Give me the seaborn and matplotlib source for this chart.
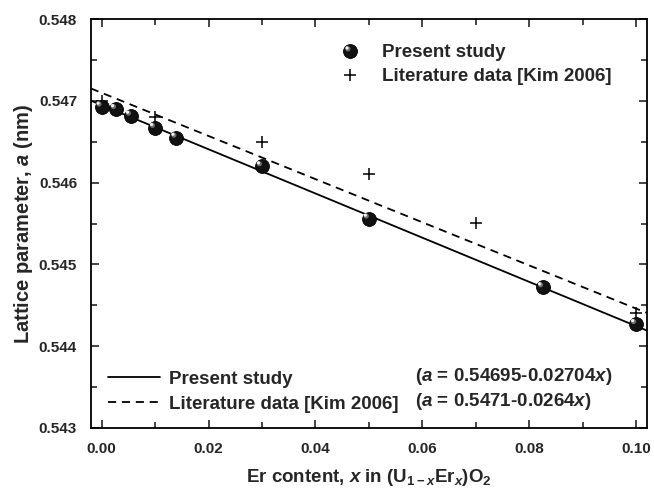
import numpy as np
import matplotlib
matplotlib.use("Agg")
import matplotlib.pyplot as plt
import seaborn as sns
from matplotlib.path import Path
from matplotlib.markers import MarkerStyle
from matplotlib.lines import Line2D
from matplotlib.legend_handler import HandlerTuple
from matplotlib.ticker import MultipleLocator, FormatStrFormatter

# ---------------------
# Data
# ---------------------
present_x = [0.0, 0.0027, 0.0055, 0.01, 0.014, 0.03, 0.05, 0.0826, 0.10]
present_a = [0.54693, 0.54690, 0.54682, 0.54667, 0.54655, 0.54620, 0.54556, 0.54472, 0.54427]

kim_x = [0.0, 0.01, 0.03, 0.05, 0.07, 0.10]
kim_a = [0.54700, 0.54680, 0.54650, 0.54611, 0.54551, 0.54441]

# linear fits given in the figure: a = a0 + slope * x
present_fit = (0.54695, -0.02704)
kim_fit = (0.5471, -0.0264)

x_lim = (-0.002, 0.102)
y_lim = (0.543, 0.548)

# ---------------------
# Style
# ---------------------
sns.set_theme(style="ticks")
plt.rcParams['font.family'] = ['Liberation Sans', 'DejaVu Sans']
plt.rcParams['font.weight'] = 'bold'
plt.rcParams['mathtext.fontset'] = 'custom'
plt.rcParams['mathtext.rm'] = 'Liberation Sans:bold'
plt.rcParams['mathtext.it'] = 'Liberation Sans:bold:italic'
plt.rcParams['mathtext.bf'] = 'Liberation Sans:bold'

DASH = (0, (4.5, 3.2))
BALL_S = 100
BALL_MS = np.sqrt(BALL_S)

# highlight markers: light spots sitting up-left inside the ball
hl_marker = MarkerStyle(Path.circle(center=(-0.3, 0.3), radius=0.3))
hl_marker2 = MarkerStyle(Path.circle(center=(-0.3, 0.3), radius=0.14))

fig = plt.figure(figsize=(6.54, 4.93), dpi=100)
ax = fig.add_axes([0.139, 0.132, 0.850, 0.829])

# fit lines
fx = np.array(x_lim)
sns.lineplot(x=fx, y=present_fit[0] + present_fit[1] * fx, ax=ax, color='black', lw=1.3)
sns.lineplot(x=fx, y=kim_fit[0] + kim_fit[1] * fx, ax=ax, color='black', lw=1.3,
             linestyle=DASH)

# literature points
sns.scatterplot(x=kim_x, y=kim_a, ax=ax, marker='+', s=85, color='black', linewidth=1.1, zorder=4)

# present study balls
sns.scatterplot(x=present_x, y=present_a, ax=ax, marker='o', s=BALL_S, color='#111111',
                edgecolor='black', linewidth=0.6, zorder=5)
sns.scatterplot(x=present_x, y=present_a, ax=ax, marker=hl_marker, s=BALL_S * 0.55,
                color='#6e6e6e', edgecolor='none', linewidth=0, zorder=6)
sns.scatterplot(x=present_x, y=present_a, ax=ax, marker=hl_marker2, s=BALL_S * 0.55,
                color='#f0f0f0', edgecolor='none', linewidth=0, zorder=7)

ax.set_xlim(*x_lim)
ax.set_ylim(*y_lim)
ax.xaxis.set_major_locator(MultipleLocator(0.02))
ax.xaxis.set_minor_locator(MultipleLocator(0.01))
ax.yaxis.set_major_locator(MultipleLocator(0.001))
ax.yaxis.set_minor_locator(MultipleLocator(0.0005))
ax.xaxis.set_major_formatter(FormatStrFormatter('%.2f'))
ax.yaxis.set_major_formatter(FormatStrFormatter('%.3f'))
ax.tick_params(which='both', direction='in', top=True, right=True, width=1.2,
               labelsize=11, pad=10)
ax.tick_params(which='major', length=6)
ax.tick_params(which='minor', length=4)
for sp in ax.spines.values():
    sp.set_linewidth(1.3)
    sp.set_color('black')
for lbl in ax.get_xticklabels() + ax.get_yticklabels():
    lbl.set_fontweight('bold')

ax.set_xlabel(r'Er content, $x$ in (U$_{\mathrm{1-}x}$Er$_{x}$)O$_{2}$', fontsize=13.5,
              fontweight='bold', labelpad=8)
ax.set_ylabel(r'Lattice parameter, $a$ (nm)', fontsize=14.5, fontweight='bold', labelpad=3)

# marker legend
ball = Line2D([], [], marker='o', ls='none', ms=BALL_MS, mfc='#111111', mec='black', mew=0.6)
hl1 = Line2D([], [], marker=hl_marker, ls='none', ms=BALL_MS * np.sqrt(0.55),
             mfc='#6e6e6e', mec='none')
hl2 = Line2D([], [], marker=hl_marker2, ls='none', ms=BALL_MS * np.sqrt(0.55),
             mfc='#f0f0f0', mec='none')
plus = Line2D([], [], marker='+', ls='none', ms=9.2, color='black', mew=1.1)
leg1 = ax.legend([(ball, hl1, hl2), plus], ['Present study', 'Literature data [Kim 2006]'],
                 handler_map={tuple: HandlerTuple(ndivide=1, pad=0)},
                 loc='upper left', bbox_to_anchor=(0.419, 0.98), frameon=False,
                 prop={'size': 13.5, 'weight': 'bold'}, handlelength=1.0,
                 handletextpad=1.2, labelspacing=0.35)
ax.add_artist(leg1)

# line legend
solid = Line2D([], [], color='black', lw=1.3)
dashed = Line2D([], [], color='black', lw=1.3, linestyle=DASH)
ax.legend([solid, dashed], ['Present study', 'Literature data [Kim 2006]'],
          loc='lower left', bbox_to_anchor=(0.0, -0.004), frameon=False,
          prop={'size': 13.5, 'weight': 'bold'}, handlelength=2.8,
          handletextpad=0.45, labelspacing=0.4)

ax.text(0.583, 0.125, r'($a$ = 0.54695-0.02704$x$)', transform=ax.transAxes,
        fontsize=13.5, fontweight='bold', va='center', ha='left')
ax.text(0.583, 0.064, r'($a$ = 0.5471-0.0264$x$)', transform=ax.transAxes,
        fontsize=13.5, fontweight='bold', va='center', ha='left')

fig.savefig('out.png', dpi=100)
